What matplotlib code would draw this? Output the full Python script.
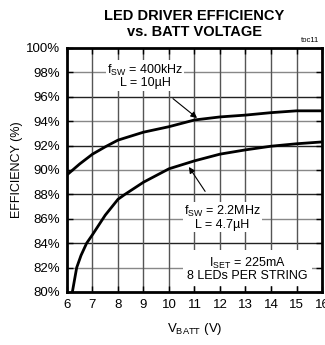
import matplotlib
matplotlib.use("Agg")
import matplotlib.pyplot as plt
from matplotlib import font_manager

names = {f.name for f in font_manager.fontManager.ttflist}
FONT = "Liberation Sans Narrow" if "Liberation Sans Narrow" in names else "Liberation Sans"
plt.rcParams['font.family'] = [FONT, 'DejaVu Sans']

# Data
v_400k = [6, 6.5, 7, 7.5, 8, 9, 10, 11, 12, 13, 14, 15, 16]
eff_400k = [89.6, 90.5, 91.3, 91.9, 92.45, 93.1, 93.55, 94.1, 94.35, 94.5, 94.7, 94.85, 94.85]

v_2m2 = [6.21, 6.38, 6.55, 6.77, 7, 7.5, 8, 8.27, 9, 10, 11, 12, 13, 14, 15, 16]
eff_2m2 = [80, 82, 83, 84, 84.7, 86.3, 87.6, 88, 89.0, 90.1, 90.75, 91.3, 91.65, 91.95, 92.15, 92.3]

x_ticks = list(range(6, 17))
y_ticks = list(range(80, 101, 2))
y_tick_labels = [f"{v}%" for v in y_ticks]

fig = plt.figure(figsize=(3.25, 3.45), dpi=100)
ax = fig.add_axes([67/325, 1-292/345, (322-67)/325, (292-48)/345])

ax.set_xlim(6, 16)
ax.set_ylim(80, 100)

# Grid
for y in y_ticks[1:-1]:
    col = '#888888' if (y % 4 == 2) else '#222222'
    ax.axhline(y, color=col, lw=1.0, zorder=1)
for x in x_ticks[1:-1]:
    ax.axvline(x, color='#555555', lw=1.0, zorder=1)

ax.plot(v_400k, eff_400k, color='black', lw=2.0, zorder=3)
ax.plot(v_2m2, eff_2m2, color='black', lw=2.0, zorder=3)

ax.set_xticks(x_ticks)
ax.set_yticks(y_ticks)
ax.set_yticklabels(y_tick_labels)
ax.tick_params(direction='in', length=4, width=1, labelsize=9.5, top=True, right=True, pad=5)
for s in ax.spines.values():
    s.set_linewidth(2)
    s.set_zorder(5)

ax.set_xlabel(r"V$_{\mathregular{BATT}}$ (V)", fontsize=9.5, labelpad=7)
ax.set_ylabel("EFFICIENCY (%)", fontsize=9, labelpad=2)

ax.set_title("LED DRIVER EFFICIENCY\nvs. BATT VOLTAGE", fontsize=10.5, fontweight='bold',
             pad=9, linespacing=1.15)
fig.text(310/325, 1-40/345, "toc11", fontsize=5.5, ha='center', va='center')

bbox = dict(facecolor='white', edgecolor='none', pad=1)
ax.annotate(r"f$_{\mathregular{SW}}$ = 400kHz" + "\nL = 10µH", xy=(11.1, 94.26), xytext=(9.06, 97.7),
            ha='center', va='center', fontsize=9, linespacing=0.95, bbox=bbox, zorder=4,
            arrowprops=dict(arrowstyle='-|>', color='black', lw=0.8, shrinkA=9, shrinkB=0,
                            mutation_scale=9))
ax.annotate(r"f$_{\mathregular{SW}}$ = 2.2MHz" + "\nL = 4.7µH", xy=(10.78, 90.25), xytext=(12.1, 86.1),
            ha='center', va='center', fontsize=9, linespacing=0.95, bbox=bbox, zorder=4,
            arrowprops=dict(arrowstyle='-|>', color='black', lw=0.8, shrinkA=9, shrinkB=0,
                            mutation_scale=9))
ax.text(13.08, 81.9, r"I$_{\mathregular{SET}}$ = 225mA" + "\n8 LEDs PER STRING", ha='center', va='center',
        fontsize=9, linespacing=0.95, bbox=dict(facecolor='white', edgecolor='none', pad=3), zorder=4)

fig.savefig("out.png", dpi=100)
